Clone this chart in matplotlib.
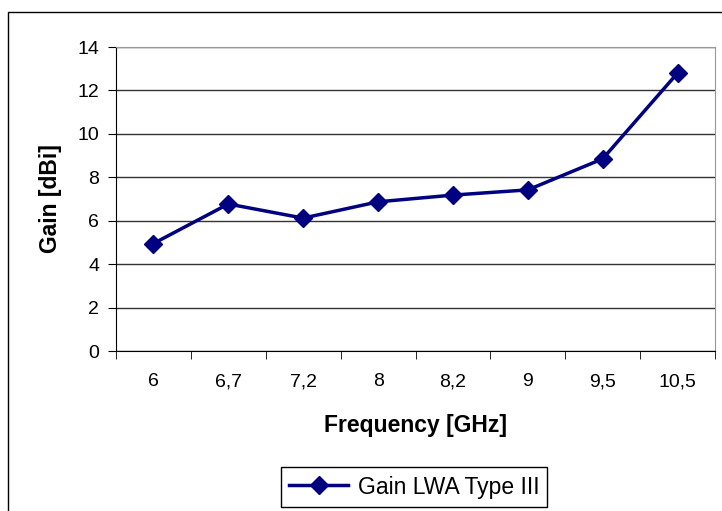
import matplotlib
matplotlib.use("Agg")
import matplotlib.pyplot as plt
from matplotlib.patches import Rectangle
import numpy as np

# data
frequencies = ["6", "6,7", "7,2", "8", "8,2", "9", "9,5", "10,5"]
gain_dbi = [4.95, 6.77, 6.12, 6.87, 7.18, 7.42, 8.85, 12.8]
series_name = "Gain LWA Type III"

plt.rcParams["font.family"] = ["Liberation Sans", "DejaVu Sans"]

W, H = 722, 511
fig = plt.figure(figsize=(W / 100, H / 100), dpi=100)

# outer chart frame (runs off right/bottom edge like the reference)
fig.patches.append(Rectangle((8 / W, -0.1), 2.0, (H - 12) / H + 0.1,
                             transform=fig.transFigure, fill=False,
                             edgecolor="black", linewidth=1.0))

left, right, top, bottom = 116, 715, 47, 351
ax = fig.add_axes([left / W, (H - bottom) / H, (right - left) / W, (bottom - top) / H])

x = np.arange(len(frequencies))
line, = ax.plot(x, gain_dbi, color="#000080", linewidth=2.5, marker="D",
                markersize=9, label=series_name, zorder=3)

ax.set_xlim(-0.5, len(frequencies) - 0.5)
ax.set_ylim(0, 14)
ax.set_yticks(np.arange(0, 15, 2))
ax.yaxis.grid(True, color="#333333", linewidth=1.0)
ax.set_axisbelow(True)

ax.set_xticks(x)
ax.set_xticklabels(frequencies)
ax.set_xticks(np.arange(-0.5, len(frequencies)), minor=True)
ax.tick_params(axis="x", which="major", length=0, pad=16, labelsize=14)
ax.tick_params(axis="x", which="minor", length=6, direction="out", color="black")
ax.tick_params(axis="y", length=6, direction="out", labelsize=14, pad=6)

for s in ["top", "right"]:
    ax.spines[s].set_color("#999999")
for s in ["left", "bottom"]:
    ax.spines[s].set_color("black")

ax.set_xlabel("Frequency [GHz]", fontsize=16.5, fontweight="bold", labelpad=17)
ax.set_ylabel("Gain [dBi]", fontsize=16.5, fontweight="bold", labelpad=11)

leg = fig.legend(handles=[line], loc="center", bbox_to_anchor=(414 / W, 1 - 487 / H),
                 fontsize=16.5, fancybox=False, edgecolor="black", framealpha=1,
                 handlelength=2.6, handletextpad=0.4, borderpad=0.35)
leg.get_frame().set_linewidth(1.0)

fig.savefig("out.png", dpi=100)
